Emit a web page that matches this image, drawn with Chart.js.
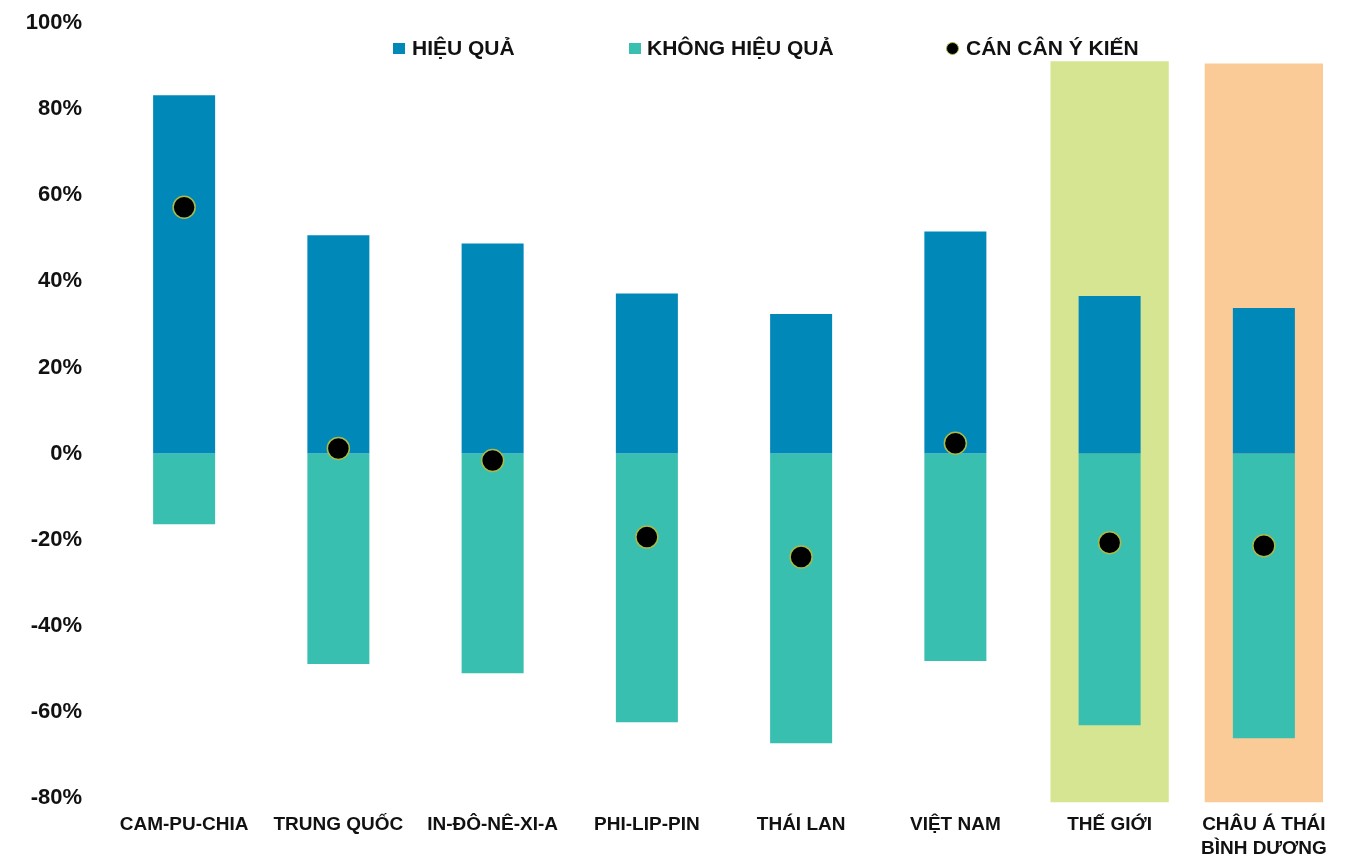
<!DOCTYPE html>
<html>
<head>
<meta charset="utf-8">
<script src="https://cdn.jsdelivr.net/npm/chart.js@4"></script>
<style>
html,body{margin:0;padding:0;background:#fff;}
#wrap{position:relative;width:1360px;height:858px;}
canvas{position:absolute;left:0;top:0;}
.lg{position:absolute;top:36px;font:bold 21px "Liberation Sans",Arial,sans-serif;color:#111;white-space:nowrap;line-height:24px;}
.sw{position:absolute;top:43px;width:12px;height:11px;}
.dot{position:absolute;top:42px;width:11px;height:11px;border-radius:50%;background:#000;border:1px solid #a9bb4a;}
</style>
</head>
<body>
<div id="wrap">
<canvas id="c" width="1360" height="858"></canvas>
<div class="sw" style="left:393px;background:#0088B9"></div>
<div class="lg" style="left:412px">HIỆU QUẢ</div>
<div class="sw" style="left:629px;background:#38BFB0"></div>
<div class="lg" style="left:647px">KHÔNG HIỆU QUẢ</div>
<div class="dot" style="left:946px"></div>
<div class="lg" style="left:966px">CÁN CÂN Ý KIẾN</div>
</div>
<script>
const categories = ['CAM-PU-CHIA','TRUNG QUỐC','IN-ĐÔ-NÊ-XI-A','PHI-LIP-PIN','THÁI LAN','VIỆT NAM','THẾ GIỚI',['CHÂU Á THÁI','BÌNH DƯƠNG']];
const effective = [83.2, 50.7, 48.8, 37.2, 32.4, 51.6, 36.6, 33.8];
const notEffective = [-16.4, -48.9, -51.0, -62.4, -67.3, -48.2, -63.1, -66.1];
const balance = [57.2, 1.2, -1.6, -19.4, -24.0, 2.4, -20.7, -21.4];
const highlight = [null, null, null, null, null, null, [-81, 91.1], [-81, 90.6]];
const highlightColors = ['#fff','#fff','#fff','#fff','#fff','#fff','#D5E591','#FACB96'];
const yTicks = [100, 80, 60, 40, 20, 0, -20, -40, -60, -80];

new Chart(document.getElementById('c'), {
  data: {
    labels: categories,
    datasets: [
      {type:'line', label:'CÁN CÂN Ý KIẾN', data: balance, showLine:false, pointRadius:11, pointHoverRadius:11,
       pointBackgroundColor:'#000', pointBorderColor:'#a9bb4a', pointBorderWidth:1.5, order:1},
      {type:'bar', label:'HIỆU QUẢ', data: effective, backgroundColor:'#0088B9', stack:'main', order:2,
       barPercentage:0.402, categoryPercentage:1},
      {type:'bar', label:'KHÔNG HIỆU QUẢ', data: notEffective, backgroundColor:'#38BFB0', stack:'main', order:2,
       barPercentage:0.402, categoryPercentage:1},
      {type:'bar', label:'bg', data: highlight, backgroundColor: highlightColors, stack:'bg', grouped:false, order:5,
       barPercentage:0.767, categoryPercentage:1, clip:false}
    ]
  },
  options: {
    responsive:false, animation:false,
    layout:{padding:{top:23, right:19, left:0, bottom:0}},
    plugins:{legend:{display:false}, tooltip:{enabled:false}},
    scales:{
      x:{stacked:true, offset:true, grid:{display:false, drawTicks:false}, border:{display:false},
         afterFit:(s)=>{ s.height = 60; },
         ticks:{color:'#111', padding:15, maxRotation:0, autoSkip:false,
                font:{family:'"Liberation Sans", Arial, sans-serif', size:19, weight:'bold', lineHeight:1.25}}},
      y:{stacked:true, min:-80, max:100, grid:{display:false, drawTicks:false}, border:{display:false},
         afterBuildTicks:(s)=>{ s.ticks = yTicks.map(v=>({value:v})); },
         afterFit:(s)=>{ s.width = 107; s.paddingTop = 0; s.paddingBottom = 0; },
         ticks:{color:'#111', padding:25, callback:(v)=>v+'%',
                font:{family:'"Liberation Sans", Arial, sans-serif', size:22, weight:'bold'}}}
    }
  }
});
</script>
</body>
</html>
